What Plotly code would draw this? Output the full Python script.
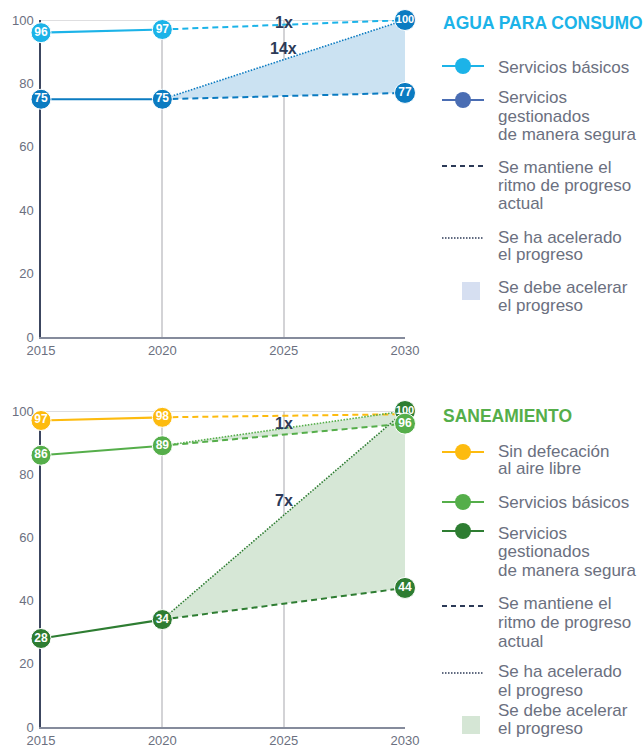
import plotly.graph_objects as go

# ---------------- data ----------------
hist_years = [2015, 2020]
proj_years = [2020, 2030]
tick_years = [2015, 2020, 2025, 2030]
y_ticks = [0, 20, 40, 60, 80, 100]

# Agua para consumo
agua_basic = [96, 97]
agua_basic_proj = [97, 100]
agua_safe = [75, 75]
agua_safe_current = [75, 77]
agua_safe_accel = [75, 100]
agua_mult_text = ["1x", "14x"]
agua_mult_y = [99.2, 91.0]

# Saneamiento
san_od = [97, 98]
san_od_proj = [98, 99]
san_basic = [86, 89]
san_basic_current = [89, 96]
san_basic_accel = [89, 100]
san_safe = [28, 34]
san_safe_current = [34, 44]
san_safe_accel = [34, 100]
san_mult_text = ["1x", "7x"]
san_mult_y = [96.0, 71.6]

agua_title = "AGUA PARA CONSUMO"
agua_legend = [["Servicios básicos"],
               ["Servicios", "gestionados", "de manera segura"],
               ["Se mantiene el", "ritmo de progreso", "actual"],
               ["Se ha acelerado", "el progreso"],
               ["Se debe acelerar", "el progreso"]]
san_title = "SANEAMIENTO"
san_legend = [["Sin defecación", "al aire libre"],
              ["Servicios básicos"],
              ["Servicios", "gestionados", "de manera segura"],
              ["Se mantiene el", "ritmo de progreso", "actual"],
              ["Se ha acelerado", "el progreso"],
              ["Se debe acelerar", "el progreso"]]

# ---------------- style ----------------
W, H = 643, 748
FONT = "Liberation Sans, Arial, sans-serif"
C_CYAN = "#1CB3E8"
C_BLUE = "#0B7BC1"
C_BLUE_LEG = "#4A6DB3"
C_FILL_B = "#CBE2F2"
C_YEL = "#FDBB0F"
C_GRN = "#55AE4A"
C_DGRN = "#2E7D32"
C_FILL_G = "#D6E7D6"
C_NAVY = "#2C3A57"
C_TXT = "#6B7080"
C_GRID = "#D3D3D6"
MS = 20

fig = go.Figure()


def xp(px):
    return px / W


def yp(py):
    return 1 - py / H


def solid(x, y, color, ax):
    fig.add_trace(go.Scatter(
        x=x, y=y, mode="lines+markers+text",
        line=dict(color=color, width=2.2),
        marker=dict(size=MS, color=color, line=dict(color="white", width=1)),
        text=[str(v) for v in y], textposition="middle center",
        textfont=dict(color="white", size=12, family=FONT, weight="bold"),
        xaxis="x" + ax, yaxis="y" + ax, cliponaxis=False, showlegend=False,
        hoverinfo="x+y"))


def proj(x, y, color, ax, dash, width):
    fig.add_trace(go.Scatter(
        x=x, y=y, mode="lines", line=dict(color=color, width=width, dash=dash),
        xaxis="x" + ax, yaxis="y" + ax, cliponaxis=False, showlegend=False,
        hoverinfo="x+y"))


def end_marker(x, y, color, ax, fontsize=12):
    fig.add_trace(go.Scatter(
        x=[x], y=[y], mode="markers+text",
        marker=dict(size=MS + 1, color=color, line=dict(color="white", width=1)),
        text=[str(y)], textposition="middle center",
        textfont=dict(color="white", size=fontsize, family=FONT, weight="bold"),
        xaxis="x" + ax, yaxis="y" + ax, cliponaxis=False, showlegend=False,
        hoverinfo="x+y"))


def fill(accel, current, color, ax):
    fig.add_trace(go.Scatter(
        x=proj_years + proj_years[::-1], y=accel + current[::-1],
        fill="toself", fillcolor=color, line=dict(width=0), mode="lines",
        xaxis="x" + ax, yaxis="y" + ax, showlegend=False, hoverinfo="skip"))


DASH = "6px,4px"
DOT = "1.5px,1.5px"

# ---- top panel (agua) ----
fill(agua_safe_accel, agua_safe_current, C_FILL_B, "")
proj(proj_years, agua_basic_proj, C_CYAN, "", DASH, 2)
proj(proj_years, agua_safe_accel, C_BLUE, "", DOT, 1.6)
proj(proj_years, agua_safe_current, C_BLUE, "", DASH, 2)
solid(hist_years, agua_basic, C_CYAN, "")
solid(hist_years, agua_safe, C_BLUE, "")
end_marker(proj_years[1], agua_safe_current[1], C_BLUE, "")
end_marker(proj_years[1], agua_safe_accel[1], C_BLUE, "", fontsize=11)

# ---- bottom panel (saneamiento) ----
fill(san_safe_accel, san_safe_current, C_FILL_G, "2")
fill(san_basic_accel, san_basic_current, C_FILL_G, "2")
proj(proj_years, san_od_proj, C_YEL, "2", DASH, 2)
proj(proj_years, san_basic_accel, C_GRN, "2", DOT, 1.6)
proj(proj_years, san_basic_current, C_GRN, "2", DASH, 2)
proj(proj_years, san_safe_accel, C_DGRN, "2", DOT, 1.6)
proj(proj_years, san_safe_current, C_DGRN, "2", DASH, 2)
solid(hist_years, san_od, C_YEL, "2")
solid(hist_years, san_basic, C_GRN, "2")
solid(hist_years, san_safe, C_DGRN, "2")
end_marker(proj_years[1], san_safe_current[1], C_DGRN, "2")
end_marker(proj_years[1], san_safe_accel[1], C_DGRN, "2", fontsize=11)
end_marker(proj_years[1], san_basic_current[1], C_GRN, "2")

# ---------------- axes ----------------
common_x = dict(range=[2015, 2030], tickvals=tick_years, showgrid=True, gridcolor=C_GRID,
                gridwidth=1.5, zeroline=False, showline=True, linecolor="#858B9C", linewidth=1.5,
                ticks="", ticklabelstandoff=1, automargin=False, layer="below traces",
                tickfont=dict(size=13, color=C_TXT, family=FONT), fixedrange=True)
common_y = dict(range=[0, 100], tickvals=y_ticks, showgrid=False, zeroline=False,
                showline=True, linecolor="#3C4660", linewidth=1.5, ticks="",
                ticklabelstandoff=3, automargin=False, layer="below traces",
                tickfont=dict(size=13, color=C_TXT, family=FONT), fixedrange=True)

fig.update_layout(
    width=W, height=H, margin=dict(l=0, r=0, t=0, b=0),
    paper_bgcolor="white", plot_bgcolor="white", font=dict(family=FONT),
    xaxis=dict(domain=[xp(41), xp(405)], anchor="y", **common_x),
    yaxis=dict(domain=[yp(337), yp(20)], anchor="x", **common_y),
    xaxis2=dict(domain=[xp(41), xp(405)], anchor="y2", **common_x),
    yaxis2=dict(domain=[yp(727), yp(411)], anchor="x2", **common_y),
)

shapes = []
annotations = []
# top gridline at 100
for ax in ["", "2"]:
    shapes.append(dict(type="line", xref="x" + ax, yref="y" + ax, x0=2015, x1=2030,
                       y0=100, y1=100, line=dict(color=C_GRID, width=1.5), layer="below"))

# multiplier labels
for ax, texts, ys in [("", agua_mult_text, agua_mult_y), ("2", san_mult_text, san_mult_y)]:
    for t, yv in zip(texts, ys):
        annotations.append(dict(x=2025, y=yv, xref="x" + ax, yref="y" + ax, text=t,
                                showarrow=False, font=dict(size=16, color=C_NAVY, family=FONT,
                                                           weight="bold")))


# ---------------- manual legends ----------------
def leg_title(text, color, py):
    annotations.append(dict(x=xp(441), y=yp(py), xref="paper", yref="paper", text=text,
                            xanchor="left", yanchor="middle", showarrow=False,
                            font=dict(size=17.5, color=color, family=FONT, weight="bold")))


def leg_text(lines, py_list):
    for t, py in zip(lines, py_list):
        annotations.append(dict(x=xp(497), y=yp(py), xref="paper", yref="paper", text=t,
                                xanchor="left", yanchor="middle", align="left", showarrow=False,
                                borderpad=0,
                                font=dict(size=17, color=C_TXT, family=FONT)))


def leg_line(py, color, dash=None, marker=True, width=2):
    ln = dict(color=color, width=width)
    if dash:
        ln["dash"] = dash
    shapes.append(dict(type="line", xref="paper", yref="paper", x0=xp(442), x1=xp(484),
                       y0=yp(py), y1=yp(py), line=ln))
    if marker:
        shapes.append(dict(type="circle", xref="paper", yref="paper", x0=xp(455), x1=xp(471),
                           y0=yp(py + 8), y1=yp(py - 8), fillcolor=color, line=dict(width=0)))


def leg_square(py, color):
    shapes.append(dict(type="rect", xref="paper", yref="paper", x0=xp(462), x1=xp(480),
                       y0=yp(py + 9), y1=yp(py - 9), fillcolor=color, line=dict(width=0)))


# top legend
leg_title(agua_title, C_CYAN, 23)
leg_line(66, C_CYAN)
leg_text(agua_legend[0], [67])
leg_line(100, C_BLUE_LEG)
leg_text(agua_legend[1], [98, 117, 135])
leg_line(166, C_NAVY, dash="5px,4px", marker=False)
leg_text(agua_legend[2], [167, 185, 204])
leg_line(238, C_NAVY, dash="1.5px,1.5px", marker=False, width=1.6)
leg_text(agua_legend[3], [237, 255])
leg_square(291, "#D6DFF1")
leg_text(agua_legend[4], [287, 305])

# bottom legend
leg_title(san_title, C_GRN, 416)
leg_line(452, C_YEL)
leg_text(san_legend[0], [451, 469])
leg_line(502, C_GRN)
leg_text(san_legend[1], [502])
leg_line(531, C_DGRN)
leg_text(san_legend[2], [533, 551, 570])
leg_line(606, C_NAVY, dash="5px,4px", marker=False)
leg_text(san_legend[3], [603, 622, 641])
leg_line(673, C_NAVY, dash="1.5px,1.5px", marker=False, width=1.6)
leg_text(san_legend[4], [671, 690])
leg_square(725, "#D5E6D5")
leg_text(san_legend[5], [710, 728])

fig.update_layout(shapes=shapes, annotations=annotations)
fig.write_html("out.html", config={"displayModeBar": False},
               post_script="document.body.style.margin='0';document.body.style.overflow='hidden';")
